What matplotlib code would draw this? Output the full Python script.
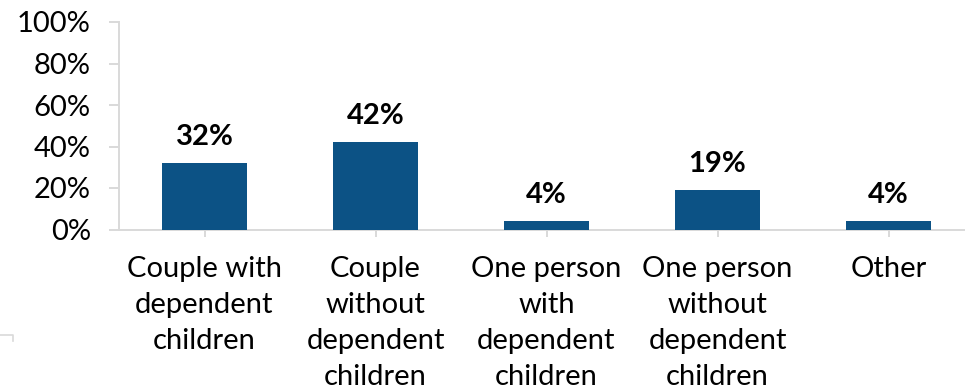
import matplotlib
matplotlib.use("Agg")
import matplotlib.pyplot as plt
from matplotlib.lines import Line2D
from matplotlib.ticker import FuncFormatter

plt.rcParams['font.family'] = ['Lato', 'DejaVu Sans']

categories = [
    "Couple with\ndependent\nchildren",
    "Couple\nwithout\ndependent\nchildren",
    "One person\nwith\ndependent\nchildren",
    "One person\nwithout\ndependent\nchildren",
    "Other",
]
shares = [32, 42, 4, 19, 4]
yticks = [0, 20, 40, 60, 80, 100]

bar_color = "#0c5285"
axis_color = "#d9d9d9"

W, H = 965, 386
fig = plt.figure(figsize=(W / 100, H / 100), dpi=100)
left_px, right_px = 119, 974
bottom_px, top_px = 229.5, 22
ax = fig.add_axes([left_px / W, 1 - bottom_px / H,
                   (right_px - left_px) / W, (bottom_px - top_px) / H])

x = list(range(len(categories)))
ax.bar(x, shares, width=0.5, color=bar_color, zorder=3)

for xi, v in zip(x, shares):
    ax.annotate(f"{v}%", (xi, v), xytext=(0, 9.5), textcoords="offset points",
                ha="center", va="bottom", fontsize=21, fontweight="bold",
                color="#000000")

ax.set_xlim(-0.5, len(categories) - 0.5)
ax.set_ylim(0, 100)
ax.set_yticks(yticks)
ax.yaxis.set_major_formatter(FuncFormatter(lambda v, _: f"{v:.0f}%"))
ax.set_xticks(x)
ax.set_xticklabels(categories, linespacing=1.48)

for s in ["top", "right"]:
    ax.spines[s].set_visible(False)
for s in ["left", "bottom"]:
    ax.spines[s].set_color(axis_color)
    ax.spines[s].set_linewidth(1.4)

ax.tick_params(axis="y", length=7.2, width=1.4, color=axis_color,
               labelsize=21, pad=13, labelcolor="#000000")
ax.tick_params(axis="x", length=5, width=1.4, color=axis_color,
               labelsize=21, pad=14, labelcolor="#000000")

# small frame corner in the lower-left margin
fig.add_artist(Line2D([0, 13 / W, 13 / W],
                      [1 - 335 / H, 1 - 335 / H, 1 - 341 / H],
                      color=axis_color, linewidth=1.2,
                      transform=fig.transFigure))

fig.savefig("out.png", dpi=100)
